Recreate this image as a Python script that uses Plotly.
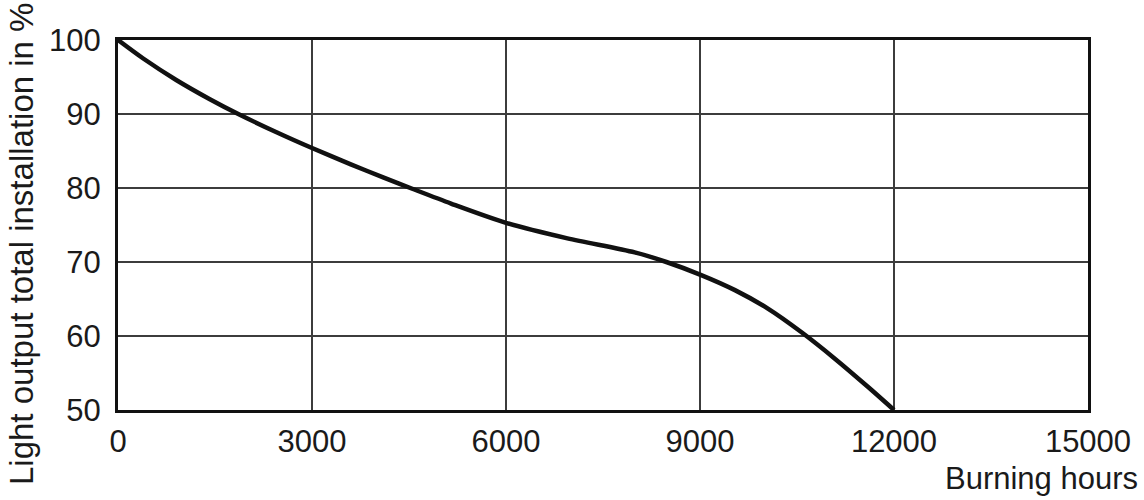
import plotly.graph_objects as go

hours = [0, 390, 900, 1420, 1860, 2460, 3000, 3600, 4110, 4550, 5150, 6000,
         6950, 7990, 8480, 9000, 9540, 10050, 10570, 11090, 11600, 12000]
light_output = [100, 97.5, 94.6, 92.0, 90.0, 87.5, 85.4, 83.2, 81.4, 79.9, 77.9, 75.3,
                73.2, 71.3, 70.0, 68.3, 66.2, 63.7, 60.5, 56.9, 53.1, 50]

x_ticks = [0, 3000, 6000, 9000, 12000, 15000]
y_ticks = [50, 60, 70, 80, 90, 100]

x_title = "Burning hours"
y_title = "Light output total installation in %"

FAM = "Liberation Sans, Arial, sans-serif"

fig = go.Figure()
fig.add_trace(go.Scatter(
    x=hours, y=light_output, mode="lines",
    line=dict(color="#111111", width=4.5, shape="spline", smoothing=0.8),
    showlegend=False, hoverinfo="skip", cliponaxis=False,
))

font = dict(family=FAM, size=31, color="#1a1a1a")

fig.update_layout(
    width=1144, height=500,
    margin=dict(l=118, r=56, t=40, b=90),
    paper_bgcolor="white", plot_bgcolor="white",
    font=font,
    xaxis=dict(
        range=[0, 15000], tickvals=x_ticks, ticktext=[str(v) for v in x_ticks],
        showgrid=True, gridcolor="#3c3c3c", gridwidth=2,
        showline=True, mirror=True, linecolor="#111111", linewidth=3,
        zeroline=False, ticks="", ticklabelstandoff=2, tickfont=font,
    ),
    yaxis=dict(
        range=[50, 100], tickvals=y_ticks, ticktext=[str(v) for v in y_ticks],
        showgrid=True, gridcolor="#3c3c3c", gridwidth=2,
        showline=True, mirror=True, linecolor="#111111", linewidth=3,
        zeroline=False, ticks="", ticklabelstandoff=8, tickfont=font,
    ),
    annotations=[
        dict(text=x_title, xref="paper", yref="paper", x=1.0536, y=-0.1838,
             xanchor="right", yanchor="middle", showarrow=False,
             font=dict(family=FAM, size=31, color="#1a1a1a")),
        dict(text=y_title, xref="paper", yref="paper", x=-0.1, y=0.4486,
             xanchor="center", yanchor="middle", textangle=-90, showarrow=False,
             font=dict(family=FAM, size=33, color="#1a1a1a")),
    ],
)

fig.write_html("out.html", config={"displayModeBar": False},
               post_script="document.body.style.margin='0px';document.body.style.overflow='hidden';")
